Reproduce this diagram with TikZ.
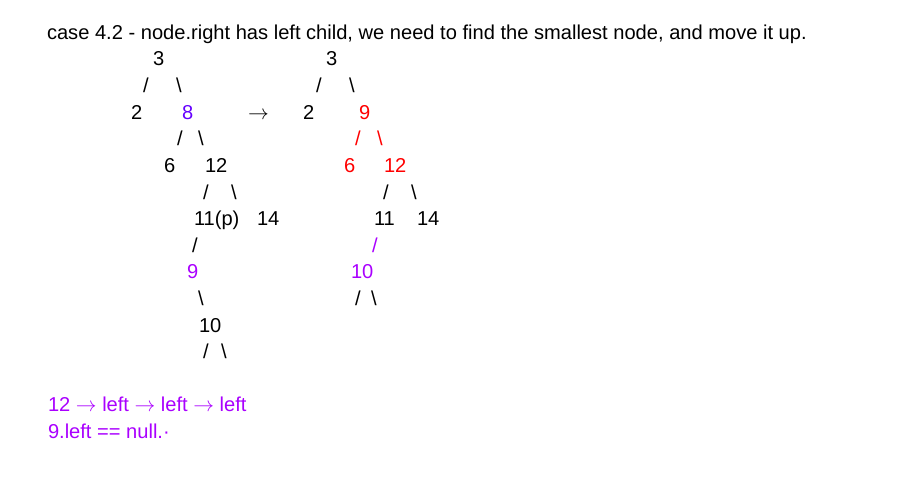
\documentclass[tikz,border=0pt]{standalone}
\usepackage{fontspec}
\setmainfont{Liberation Sans}
\newcommand{\rarr}{\ensuremath{\rightarrow}}
\definecolor{bpurple}{RGB}{102,0,255}
\definecolor{mpurple}{RGB}{170,0,255}
\definecolor{bred}{RGB}{255,0,0}
\begin{document}
\begin{tikzpicture}[x=1pt,y=-1pt,
  t/.style={anchor=base west,inner sep=0pt,outer sep=0pt,font=\fontsize{20.1}{24}\selectfont}]
\useasboundingbox[fill=white] (0,0) rectangle (901,482);
% title
\node[t] (title) at (47,39) {case 4.2 - node.right has left child, we need to find the smallest node, and move it up.};
% left tree
\node[t] (l3) at (153,65.6) {3};
\node[t] (l3l) at (143,92) {/};
\node[t] (l3r) at (176,92) {\textbackslash};
\node[t] (l2) at (131,119) {2};
\node[t,text=bpurple] (l8) at (182,119) {8};
\node[t] (arrow) at (248,119) {\rarr};
\node[t] (l8l) at (177,145) {/};
\node[t] (l8r) at (198,145) {\textbackslash};
\node[t] (l6) at (164,172) {6};
\node[t] (l12) at (205,172) {12};
\node[t] (l12l) at (203,199) {/};
\node[t] (l12r) at (231,199) {\textbackslash};
\node[t] (l11) at (194,225) {11(p)};
\node[t] (l14) at (257,225) {14};
\node[t] (l11l) at (192,252) {/};
\node[t,text=mpurple] (l9) at (187,278) {9};
\node[t] (l9r) at (198,305) {\textbackslash};
\node[t] (l10) at (199,332) {10};
\node[t] (l10l) at (203,358) {/};
\node[t] (l10r) at (221,358) {\textbackslash};
% right tree
\node[t] (r3) at (326,65.6) {3};
\node[t] (r3l) at (316,92) {/};
\node[t] (r3r) at (349,92) {\textbackslash};
\node[t] (r2) at (303,119) {2};
\node[t,text=bred] (r9) at (359,119) {9};
\node[t,text=bred] (r9l) at (355,145) {/};
\node[t,text=bred] (r9r) at (377,145) {\textbackslash};
\node[t,text=bred] (r6) at (344,172) {6};
\node[t,text=bred] (r12) at (384,172) {12};
\node[t] (r12l) at (383,199) {/};
\node[t] (r12r) at (411,199) {\textbackslash};
\node[t] (r11) at (374,225) {11};
\node[t] (r14) at (417,225) {14};
\node[t,text=mpurple] (r11l) at (372,252) {/};
\node[t,text=mpurple] (r10) at (351,278) {10};
\node[t] (r10l) at (355,305) {/};
\node[t] (r10r) at (371,305) {\textbackslash};
% notes
\node[t,text=mpurple] (n1) at (48,411) {12 \rarr{} left \rarr{} left \rarr{} left};
\node[t,text=mpurple] (n2) at (48,438) {9.left == null.·};
\end{tikzpicture}
\end{document}
